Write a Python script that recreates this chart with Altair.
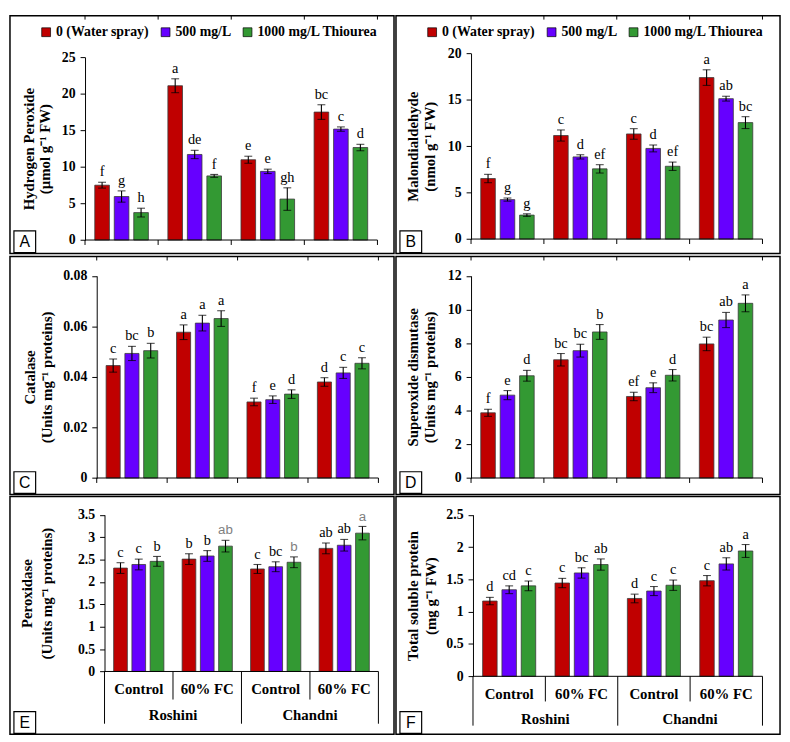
import altair as alt
import pandas as pd

groups = ["Roshini|Control", "Roshini|60% FC", "Chandni|Control", "Chandni|60% FC"]
group_labels = ["Control", "60% FC", "Control", "60% FC"]
cultivars = ["Roshini", "Chandni"]
series = ["0 (Water spray)", "500 mg/L", "1000 mg/L Thiourea"]
colors = ["#C00000", "#6600FF", "#339933"]

# values: group-major order (4 groups x 3 series)
h2o2 = [7.5, 5.95, 3.75, 21.1, 11.7, 8.77, 10.98, 9.39, 5.6, 17.5, 15.17, 12.65]
h2o2_err = [0.4, 0.77, 0.6, 0.95, 0.57, 0.2, 0.48, 0.3, 1.54, 1.0, 0.3, 0.44]
h2o2_let = ["f", "g", "h", "a", "de", "f", "e", "e", "gh", "bc", "c", "d"]

mda = [6.52, 4.25, 2.58, 11.15, 8.85, 7.56, 11.32, 9.76, 7.84, 17.39, 15.12, 12.54]
mda_err = [0.45, 0.17, 0.14, 0.6, 0.23, 0.45, 0.57, 0.37, 0.45, 0.84, 0.26, 0.64]
mda_let = ["f", "g", "g", "c", "d", "ef", "c", "d", "ef", "a", "ab", "bc"]

cat = [0.0445, 0.0493, 0.0504, 0.0577, 0.0613, 0.0631, 0.0301, 0.0310, 0.0332, 0.0380, 0.0416, 0.0454]
cat_err = [0.0026, 0.0028, 0.0029, 0.0029, 0.0031, 0.0031, 0.0015, 0.0015, 0.0017, 0.0017, 0.0022, 0.0022]
cat_let = ["c", "bc", "b", "a", "a", "a", "f", "e", "d", "d", "c", "c"]

sod = [3.87, 4.92, 6.07, 7.02, 7.56, 8.67, 4.84, 5.36, 6.10, 7.96, 9.38, 10.37]
sod_err = [0.21, 0.27, 0.32, 0.37, 0.38, 0.44, 0.25, 0.29, 0.34, 0.40, 0.45, 0.50]
sod_let = ["f", "e", "d", "bc", "bc", "b", "ef", "e", "d", "bc", "ab", "a"]

pod = [2.31, 2.39, 2.46, 2.51, 2.58, 2.80, 2.29, 2.34, 2.44, 2.75, 2.82, 3.09]
pod_err = [0.12, 0.12, 0.11, 0.12, 0.12, 0.13, 0.10, 0.11, 0.12, 0.12, 0.13, 0.15]
pod_let = ["c", "c", "b", "b", "b", "ab", "c", "bc", "b", "ab", "ab", "a"]

tsp = [1.165, 1.34, 1.40, 1.444, 1.60, 1.73, 1.205, 1.32, 1.41, 1.48, 1.74, 1.94]
tsp_err = [0.057, 0.06, 0.075, 0.072, 0.08, 0.087, 0.067, 0.07, 0.08, 0.08, 0.095, 0.1]
tsp_let = ["d", "cd", "c", "c", "bc", "ab", "d", "c", "c", "c", "ab", "a"]

W, H = 389, 241
SX, SY = W / 394.0, H / 246.0
SERIF = "Liberation Serif"


def frame(vals, errs, lets):
    rows = []
    for gi, g in enumerate(groups):
        for si, s in enumerate(series):
            k = gi * 3 + si
            rows.append(dict(group=g, series=s, value=vals[k], lo=vals[k] - errs[k],
                             hi=vals[k] + errs[k], letter=lets[k], gi=gi, si=si))
    return pd.DataFrame(rows)


def panel(vals, errs, lets, title, ticks, fmt, ax, xe, y0, yt, label, line1_x, line_h,
          legend=False, bottom=None, top_ticks=True, gray_green=False):
    tx = (line1_x - ax) * SX
    ax, xe, y0, yt = ax * SX, xe * SX, y0 * SY, yt * SY
    df = frame(vals, errs, lets)
    gdf = pd.DataFrame({"group": groups, "glabel": group_labels})
    one = pd.DataFrame({"t": [label]})

    xenc = alt.X("group:N", scale=alt.Scale(domain=groups, range=[ax, xe],
                                            paddingInner=0, paddingOuter=0), axis=None)
    xoff = alt.XOffset("series:N", scale=alt.Scale(domain=series, paddingInner=0.25,
                                                   paddingOuter=0.5))
    yscale = alt.Scale(domain=[ticks[0], ticks[-1]], range=[y0, yt], nice=False, zero=True)
    yenc = alt.Y("value:Q", scale=yscale, title=title,
                 axis=alt.Axis(values=ticks, tickCount=len(ticks), format=fmt, offset=-ax,
                               grid=False, labelOverlap=False, labelFlush=False,
                               labelFont=SERIF, labelFontWeight="bold", labelFontSize=14,
                               labelColor="black", labelPadding=5, tickSize=5,
                               tickColor="black", domainColor="black", tickWidth=1,
                               domainWidth=1, titleFont=SERIF, titleFontWeight="bold",
                               titleFontSize=15, titleColor="black", titleLineHeight=line_h,
                               titleX=tx, titleY=(y0 + yt) / 2, titleAngle=270,
                               titleBaseline="middle", titleAlign="center"))
    if legend:
        leg = alt.Legend(orient="none", legendX=30 * SX, legendY=10 * SY, direction="horizontal",
                         title=None, symbolType="square", symbolSize=80,
                         symbolStrokeColor="black", symbolStrokeWidth=0.7,
                         labelFont=SERIF, labelFontWeight="bold", labelFontSize=14,
                         labelColor="black", columnPadding=9, labelOffset=3, padding=0)
    else:
        leg = None
    cenc = alt.Color("series:N", scale=alt.Scale(domain=series, range=colors), legend=leg)

    base = alt.Chart(df)
    bars = base.mark_bar(stroke="#3a3a3a", strokeWidth=0.8).encode(
        x=xenc, xOffset=xoff, y=yenc, color=cenc)
    err = base.mark_rule(color="black", strokeWidth=1.1).encode(
        x=alt.X("group:N"), xOffset=alt.XOffset("series:N"), y=alt.Y("lo:Q"), y2="hi:Q")
    cap_hi = base.mark_tick(color="black", size=8, thickness=1.1).encode(
        x=alt.X("group:N"), xOffset=alt.XOffset("series:N"), y=alt.Y("hi:Q"))
    cap_lo = base.mark_tick(color="black", size=8, thickness=1.1).encode(
        x=alt.X("group:N"), xOffset=alt.XOffset("series:N"), y=alt.Y("lo:Q"))
    txt_enc = dict(x=alt.X("group:N"), xOffset=alt.XOffset("series:N"),
                   y=alt.Y("hi:Q"), text="letter:N")
    if gray_green:
        letters = base.transform_filter("!(datum.si == 2 && datum.gi > 0)").mark_text(
            font=SERIF, fontSize=14.5, color="black", baseline="alphabetic", dy=-6
        ).encode(**txt_enc)
        letters2 = base.transform_filter("datum.si == 2 && datum.gi > 0").mark_text(
            font="Liberation Sans", fontSize=13.5, color="#7f7f7f", baseline="alphabetic", dy=-6
        ).encode(**txt_enc)
        letter_layers = [letters, letters2]
    else:
        letters = base.mark_text(font=SERIF, fontSize=14.5, color="black",
                                 baseline="alphabetic", dy=-6).encode(**txt_enc)
        letter_layers = [letters]

    baseline = alt.Chart(one).mark_rule(color="black", strokeWidth=1).encode(
        x=alt.value(ax), x2=alt.value(xe), y=alt.datum(0))
    layers = [baseline]
    if bottom is None:
        bt = alt.Chart(gdf).mark_rule(color="black", strokeWidth=1).encode(
            x=alt.X("group:N", bandPosition=0), y=alt.datum(0), y2=alt.value(y0 + 5))
        bt_end = alt.Chart(one).mark_rule(color="black", strokeWidth=1).encode(
            x=alt.value(xe), y=alt.datum(0), y2=alt.value(y0 + 5))
        layers += [bt, bt_end]
    else:
        lab_y, short_y, long_y, cult_y = [v * SY for v in bottom]
        longt = alt.Chart(gdf).transform_filter(
            alt.FieldOneOfPredicate(field="group", oneOf=[groups[0], groups[2]])
        ).mark_rule(color="black", strokeWidth=1).encode(
            x=alt.X("group:N", bandPosition=0), y=alt.datum(0), y2=alt.value(long_y))
        long_end = alt.Chart(one).mark_rule(color="black", strokeWidth=1).encode(
            x=alt.value(xe), y=alt.datum(0), y2=alt.value(long_y))
        shortt = alt.Chart(gdf).transform_filter(
            alt.FieldOneOfPredicate(field="group", oneOf=[groups[1], groups[3]])
        ).mark_rule(color="black", strokeWidth=1).encode(
            x=alt.X("group:N", bandPosition=0), y=alt.datum(0), y2=alt.value(short_y))
        glab = alt.Chart(gdf).mark_text(font=SERIF, fontWeight="bold", fontSize=15,
                                        color="black", baseline="middle").encode(
            x=alt.X("group:N"), y=alt.value(lab_y), text="glabel:N")
        cdf = pd.DataFrame({"group": [groups[0], groups[2]], "cult": cultivars})
        clab = alt.Chart(cdf).mark_text(font=SERIF, fontWeight="bold", fontSize=15,
                                        color="black", baseline="middle").encode(
            x=alt.X("group:N", bandPosition=1), y=alt.value(cult_y), text="cult:N")
        layers += [longt, long_end, shortt, glab, clab]
    if top_ticks:
        tt = alt.Chart(gdf).mark_rule(color="black", strokeWidth=1).encode(
            x=alt.X("group:N", bandPosition=0), y=alt.value(0), y2=alt.value(4))
        tt_end = alt.Chart(one).mark_rule(color="black", strokeWidth=1).encode(
            x=alt.value(xe), y=alt.value(0), y2=alt.value(4))
        layers += [tt, tt_end]

    box = alt.Chart(one).mark_rect(fill="white", stroke="black", strokeWidth=1.2).encode(
        x=alt.value(4), x2=alt.value(26), y=alt.value(H - 23), y2=alt.value(H - 1))
    boxt = alt.Chart(one).mark_text(font="Liberation Sans", fontSize=16, color="black",
                                    baseline="middle", align="center").encode(
        x=alt.value(15), y=alt.value(H - 11.5), text="t:N")

    return alt.layer(bars, err, cap_hi, cap_lo, *letter_layers, *layers, box, boxt).properties(
        width=W, height=H)


pA = panel(h2o2, h2o2_err, h2o2_let, ["Hydrogen Peroxide", "(µmol g⁻¹ FW)"],
           [0, 5, 10, 15, 20, 25], "d", 77, 377, 232, 43, "A", 19, 16, legend=True)
pB = panel(mda, mda_err, mda_let, ["Malondialdehyde", "(nmol g⁻¹ FW)"],
           [0, 5, 10, 15, 20], "d", 77, 376, 231, 39, "B", 17, 17, legend=True)
pC = panel(cat, cat_err, cat_let, ["Catalase", "(Units mg⁻¹ proteins)"],
           [0, 0.02, 0.04, 0.06, 0.08], ".2~f", 89, 378, 229, 20, "C", 20, 17)
pD = panel(sod, sod_err, sod_let, ["Superoxide dismutase", "(Units mg⁻¹ proteins)"],
           [0, 2, 4, 6, 8, 10, 12], "d", 77, 376, 229, 20, "D", 17, 17)
pE = panel(pod, pod_err, pod_let, ["Peroxidase", "(Units mg⁻¹ proteins)"],
           [0, 0.5, 1, 1.5, 2, 2.5, 3, 3.5], ".1~f", 97, 378, 181, 19, "E", 17.5, 20,
           bottom=(199, 210, 235, 226), top_ticks=False, gray_green=True)
pF = panel(tsp, tsp_err, tsp_let, ["Total soluble protein", "(mg g⁻¹ FW)"],
           [0, 0.5, 1, 1.5, 2, 2.5], ".1~f", 79, 376, 186, 19, "F", 17.5, 17.5,
           bottom=(204, 212, 237, 230), top_ticks=False)

res = dict(x="independent", y="independent", color="independent", xOffset="independent")
row1 = alt.hconcat(pA, pB, spacing=0).resolve_scale(**res)
row2 = alt.hconcat(pC, pD, spacing=0).resolve_scale(**res)
row3 = alt.hconcat(pE, pF, spacing=0).resolve_scale(**res)

chart = alt.vconcat(row1, row2, row3, spacing=0).resolve_scale(**res).properties(
    padding=1
).configure_view(stroke="black", strokeWidth=1.5, fill="white")

chart.save("out.html", embed_options={"renderer": "svg", "actions": False})
